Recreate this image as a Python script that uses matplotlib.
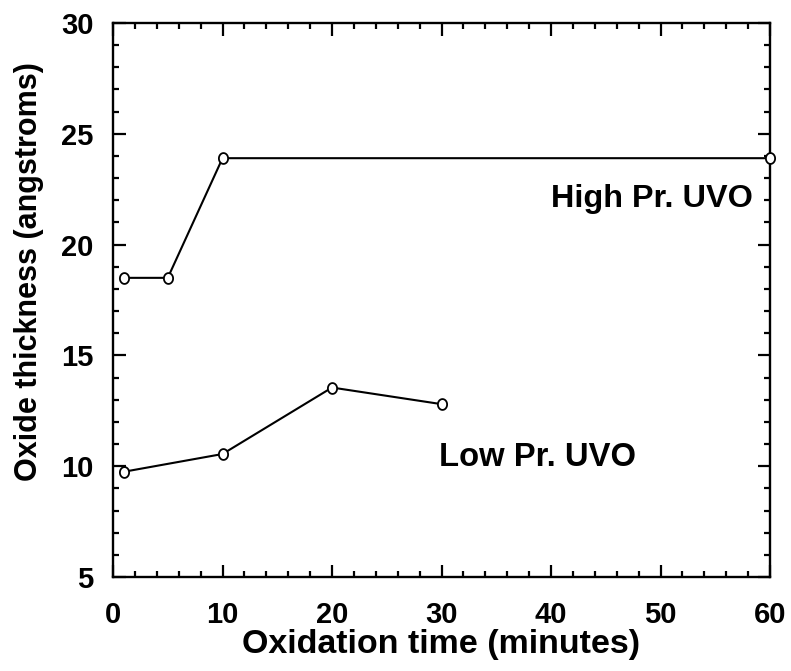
import matplotlib
matplotlib.use("Agg")
import matplotlib.pyplot as plt
from matplotlib.path import Path
from matplotlib.ticker import MultipleLocator
import numpy as np

# Data
high_x = [1, 5, 10, 60]
high_y = [18.5, 18.5, 23.9, 23.9]
low_x = [1, 10, 20, 30]
low_y = [9.75, 10.55, 13.55, 12.8]

x_ticks = [0, 10, 20, 30, 40, 50, 60]
y_ticks = [5, 10, 15, 20, 25, 30]
xlabel = "Oxidation time (minutes)"
ylabel = "Oxide thickness (angstroms)"
high_label = "High Pr. UVO"
low_label = "Low Pr. UVO"

plt.rcParams['font.family'] = ['Liberation Sans', 'DejaVu Sans']
plt.rcParams['font.weight'] = 'bold'

fig = plt.figure(figsize=(7.91, 6.71), dpi=100)
ax = fig.add_axes([0.1429, 0.1401, 0.8306, 0.8256])

t = np.linspace(0, 2 * np.pi, 60)
ell = Path(np.column_stack([0.85 * np.cos(t), np.sin(t)]), closed=True)

for xs, ys in [(high_x, high_y), (low_x, low_y)]:
    ax.plot(xs, ys, color='black', lw=1.5, marker=ell, markersize=7.8,
            markerfacecolor='white', markeredgecolor='black', markeredgewidth=1.3,
            clip_on=False, zorder=3)

ax.set_xlim(0, 60)
ax.set_ylim(5, 30)
ax.set_xticks(x_ticks)
ax.set_yticks(y_ticks)
ax.xaxis.set_minor_locator(MultipleLocator(2))
ax.yaxis.set_minor_locator(MultipleLocator(1))
ax.tick_params(which='both', direction='in', top=True, right=True, width=1.6,
               labelsize=21)
ax.tick_params(which='major', length=9)
ax.tick_params(which='minor', length=4.5)
ax.tick_params(axis='x', which='major', pad=17)
ax.tick_params(axis='y', which='major', pad=14)
for lab in ax.get_xticklabels() + ax.get_yticklabels():
    lab.set_fontweight('bold')
for s in ax.spines.values():
    s.set_linewidth(1.7)

ax.set_xlabel(xlabel, fontsize=24.5, fontweight='bold', labelpad=0)
ax.set_ylabel(ylabel, fontsize=22, fontweight='bold', labelpad=12)
ax.yaxis.label.set_y(0.551)

ax.text(58.4, 21.71, high_label, fontsize=23.3, fontweight='bold', ha='right', va='baseline')
ax.text(29.8, 10.01, low_label, fontsize=23.6, fontweight='bold', ha='left', va='baseline')

fig.savefig("out.png", dpi=100)
